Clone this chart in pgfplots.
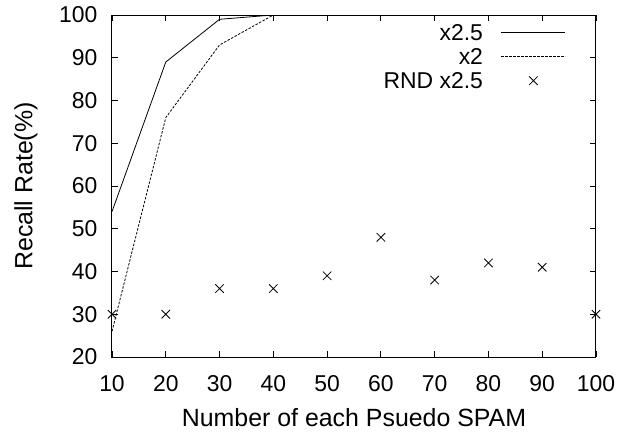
\documentclass[border=0pt]{standalone}
\usepackage{pgfplots}
\pgfplotsset{compat=1.18}
\usepackage{fontspec}
\setmainfont{Liberation Sans}

\begin{document}
\begin{tikzpicture}
\begin{axis}[
    name=main,
    scale only axis,
    width=484bp,
    height=342bp,
    xmin=10, xmax=100,
    ymin=20, ymax=100,
    xtick={10,20,...,100},
    ytick={20,30,...,100},
    tick align=inside,
    major tick length=6bp,
    tick style={black, line width=0.8bp},
    axis line style={line width=1bp},
    font=\fontsize{23}{27}\selectfont,
    /pgf/number format/assume math mode=true,
    xticklabel style={yshift=-15bp},
    yticklabel style={xshift=-11bp},
    xlabel={Number of each Psuedo SPAM},
    ylabel={Recall Rate(\%)},
    label style={font=\fontsize{25}{29}\selectfont},
    xlabel style={yshift=-10bp},
    ylabel style={yshift=15bp},
    legend plot pos=right,
    legend cell align=right,
    legend image code/.code={
        \draw[mark repeat=2, mark phase=2, #1] plot coordinates {(0bp,0bp) (32bp,0bp) (64bp,0bp)};},
    legend style={draw=none, fill=none, at={(0.938,0.973)}, anchor=north east,
        inner sep=0bp, row sep=7.5bp,
        nodes={inner sep=0bp, text height=16.5bp, text depth=0bp},
        /tikz/every odd column/.append style={column sep=18bp},
        font=\fontsize{23}{27}\selectfont},
]
\addplot[black, line width=0.8bp, mark=none] coordinates {
    (10,54)(20,89)(30,99)(40,100)(50,100)(60,100)(70,100)(80,100)(90,100)(100,100)};
\addplot[black, line width=0.8bp, mark=none, dash pattern=on 2.5bp off 1.5bp] coordinates {
    (10,26)(20,76)(30,93)(40,100)(50,100)(60,100)(70,100)(80,100)(90,100)(100,100)};
\addplot[black, only marks, mark=x, mark size=6bp, mark options={line width=0.8bp}] coordinates {
    (10,30)(20,30)(30,36)(40,36)(50,39)(60,48)(70,38)(80,42)(90,41)(100,30)};
\legend{x2.5,x2,RND x2.5}
\end{axis}
\path (main.south west) ++(-112bp,-75bp) rectangle ++(633bp,432bp);
\end{tikzpicture}
\end{document}
